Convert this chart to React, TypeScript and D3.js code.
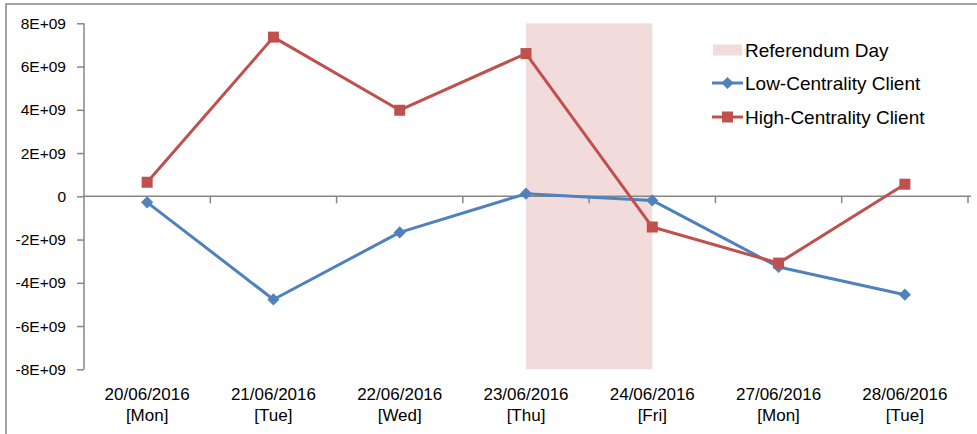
import { useEffect, useRef } from 'react'
import * as d3 from 'd3'

const dates = ['20/06/2016', '21/06/2016', '22/06/2016', '23/06/2016', '24/06/2016', '27/06/2016', '28/06/2016']
const weekdays = ['[Mon]', '[Tue]', '[Wed]', '[Thu]', '[Fri]', '[Mon]', '[Tue]']
const lowCentrality = [-0.28e9, -4.77e9, -1.67e9, 0.12e9, -0.19e9, -3.27e9, -4.55e9]
const highCentrality = [0.65e9, 7.36e9, 3.98e9, 6.6e9, -1.42e9, -3.09e9, 0.56e9]
const referendumSpan = ['23/06/2016', '24/06/2016']
const yTicks = [-8e9, -6e9, -4e9, -2e9, 0, 2e9, 4e9, 6e9, 8e9]
const legendLabels = ['Referendum Day', 'Low-Centrality Client', 'High-Centrality Client']

const BLUE = '#4F81BD'
const RED = '#C0504D'
const SHADE = '#F2DCDB'
const AXIS = '#868686'

const App = () => {
  const svgRef = useRef<SVGSVGElement>(null)

  useEffect(() => {
    if (!svgRef.current) return
    const svg = d3.select(svgRef.current)
    svg.selectAll('*').remove()

    const left = 84
    const right = 968
    const top = 23.3
    const bottom = 369.3
    const font = '"Liberation Sans", Arial, sans-serif'

    // outer frame
    svg
      .append('rect')
      .attr('x', 6)
      .attr('y', 4)
      .attr('width', 980)
      .attr('height', 440)
      .attr('fill', 'white')
      .attr('stroke', AXIS)
      .attr('stroke-width', 1.5)

    const x = d3.scalePoint<string>().domain(dates).range([left, right]).padding(0.5)
    const step = x.step()
    const y = d3.scaleLinear().domain([-8e9, 8e9]).range([bottom, top])

    // referendum day shading
    svg
      .append('rect')
      .attr('x', x(referendumSpan[0])!)
      .attr('y', top)
      .attr('width', x(referendumSpan[1])! - x(referendumSpan[0])!)
      .attr('height', bottom - top)
      .attr('fill', SHADE)

    // y axis
    const yAxis = svg
      .append('g')
      .attr('transform', `translate(${left},0)`)
      .call(
        d3
          .axisLeft(y)
          .tickValues(yTicks)
          .tickSize(7)
          .tickPadding(11)
          .tickFormat((d) => {
            const v = d as number
            return v === 0 ? '0' : `${v / 1e9}E+09`
          })
      )
    yAxis.select('.domain').attr('stroke', AXIS).attr('stroke-width', 1.5).attr('d', `M0,${top}V${bottom}`)
    yAxis.selectAll('.tick line').attr('stroke', AXIS).attr('stroke-width', 1.5)
    yAxis
      .selectAll('.tick text')
      .attr('fill', '#000')
      .style('font-family', font)
      .style('font-size', '15.5px')

    // x axis on zero line
    const zeroY = y(0)
    svg
      .append('line')
      .attr('x1', left)
      .attr('x2', right + 3)
      .attr('y1', zeroY)
      .attr('y2', zeroY)
      .attr('stroke', AXIS)
      .attr('stroke-width', 1.5)
    svg
      .append('g')
      .selectAll('line')
      .data(d3.range(1, dates.length + 1))
      .join('line')
      .attr('x1', (i) => left + i * step)
      .attr('x2', (i) => left + i * step)
      .attr('y1', zeroY)
      .attr('y2', zeroY + 7)
      .attr('stroke', AXIS)
      .attr('stroke-width', 1.5)

    // category labels
    const labels = svg.append('g').style('font-family', font).style('font-size', '17px').attr('text-anchor', 'middle')
    dates.forEach((d, i) => {
      labels.append('text').attr('x', x(d)!).attr('y', 400).text(d)
      labels.append('text').attr('x', x(d)!).attr('y', 421).text(weekdays[i])
    })

    const line = d3
      .line<number>()
      .x((_, i) => x(dates[i])!)
      .y((v) => y(v))

    // square rotated 45 degrees, like the spreadsheet diamond marker
    const diamond = d3.symbol(d3.symbolSquare, 74)

    // low centrality
    svg
      .append('path')
      .attr('d', line(lowCentrality))
      .attr('fill', 'none')
      .attr('stroke', BLUE)
      .attr('stroke-width', 3)
      .attr('stroke-linejoin', 'round')
    svg
      .append('g')
      .selectAll('path')
      .data(lowCentrality)
      .join('path')
      .attr('d', diamond()!)
      .attr('transform', (v, i) => `translate(${x(dates[i])},${y(v)}) rotate(45)`)
      .attr('fill', BLUE)

    // high centrality
    svg
      .append('path')
      .attr('d', line(highCentrality))
      .attr('fill', 'none')
      .attr('stroke', RED)
      .attr('stroke-width', 3)
      .attr('stroke-linejoin', 'round')
    svg
      .append('g')
      .selectAll('rect')
      .data(highCentrality)
      .join('rect')
      .attr('x', (_, i) => x(dates[i])! - 5.5)
      .attr('y', (v) => y(v) - 5.5)
      .attr('width', 11)
      .attr('height', 11)
      .attr('fill', RED)

    // legend
    const legend = svg.append('g').style('font-family', font).style('font-size', '19px')
    const rowY = [50, 83, 117]
    legend
      .append('rect')
      .attr('x', 713)
      .attr('y', rowY[0] - 5.5)
      .attr('width', 29)
      .attr('height', 11)
      .attr('fill', SHADE)
    ;[BLUE, RED].forEach((c, k) => {
      const cy = rowY[k + 1]
      legend.append('line').attr('x1', 712).attr('x2', 743).attr('y1', cy).attr('y2', cy).attr('stroke', c).attr('stroke-width', 3)
      if (k === 0) {
        legend.append('path').attr('d', diamond()!).attr('transform', `translate(727.5,${cy}) rotate(45)`).attr('fill', c)
      } else {
        legend.append('rect').attr('x', 722).attr('y', cy - 5.5).attr('width', 11).attr('height', 11).attr('fill', c)
      }
    })
    legendLabels.forEach((t, i) => {
      legend.append('text').attr('x', 745).attr('y', rowY[i] + 6.5).text(t)
    })
  }, [])

  return (
    <div style={{ position: 'fixed', left: 0, top: 0 }}>
      <svg ref={svgRef} width={977} height={434} style={{ display: 'block' }} />
    </div>
  )
}

export default App
